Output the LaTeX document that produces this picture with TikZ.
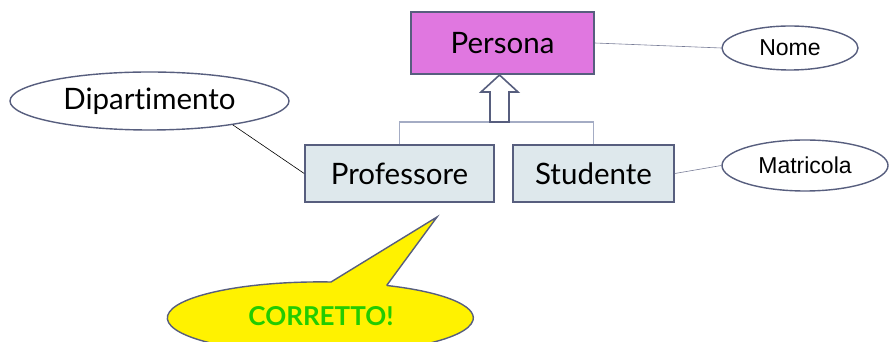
\documentclass[tikz,border=0pt]{standalone}
\usepackage{fontspec}
\setmainfont{Lato}[Ligatures=NoCommon]
\newfontfamily\arialfont{Liberation Sans}
\usetikzlibrary{shapes.geometric}
\definecolor{bordo}{HTML}{575E7E}
\definecolor{lilla}{HTML}{E077E0}
\definecolor{celeste}{HTML}{DEE8EC}
\definecolor{grigioisa}{HTML}{A4ACC4}
\definecolor{verdino}{HTML}{22CC00}

\begin{document}
\begin{tikzpicture}[x=1pt,y=1pt,
  entita/.style={draw=bordo,line width=1.6pt,minimum height=57pt,inner sep=0pt,
    font=\fontsize{29.5}{31}\selectfont},
  attrib/.style={ellipse,draw=bordo,line width=1.4pt,fill=white,inner sep=0pt},
  legame/.style={draw=bordo!80,line width=.6pt}]
\useasboundingbox (0,0) rectangle (891,342);
\node[entita,fill=lilla,minimum width=183pt,minimum height=62pt](Persona) at (502.5,299){Persona};
\node[entita,fill=celeste,minimum width=189pt](Professore) at (399.5,168.5){Professore};
\node[entita,fill=celeste,minimum width=161pt](Studente) at (593.5,168.5){Studente};
\node[attrib,minimum width=136pt,minimum height=44pt,font=\arialfont\fontsize{23}{25}\selectfont](Nome) at (790,294){Nome};
\node[attrib,minimum width=166pt,minimum height=51pt,font=\arialfont\fontsize{23}{25}\selectfont](Matricola) at (805,176.5){Matricola};
\node[attrib,minimum width=279pt,minimum height=58pt,font=\fontsize{29.5}{31}\selectfont](Dipartimento) at (149.5,241){Dipartimento};
\coordinate (isa) at (499.5,220);
% generalizzazione
\draw[grigioisa,line width=1.2pt](Professore.north)|-(isa)-|(Studente.north);
\draw[bordo,line width=1.6pt,fill=white](490,220)--(490,250)--(481,250)--(499.5,267)--(518,250)--(509,250)--(509,220)--cycle;
\draw[legame](Persona.east)--(Nome.west);
\draw[legame](Studente.east)--(Matricola.west);
\draw[black,line width=.6pt](Dipartimento.-16)--(Professore.west);
% fumetto
\draw[bordo,line width=1.4pt,fill=yellow](387,57)--(437,125)--(331,60)
  arc[start angle=86,end angle=424,x radius=153,y radius=36]--cycle;
\node[text=verdino,font=\bfseries\fontsize{26}{28}\selectfont](Corretto) at (321,26){CORRETTO!};
\end{tikzpicture}
\end{document}
